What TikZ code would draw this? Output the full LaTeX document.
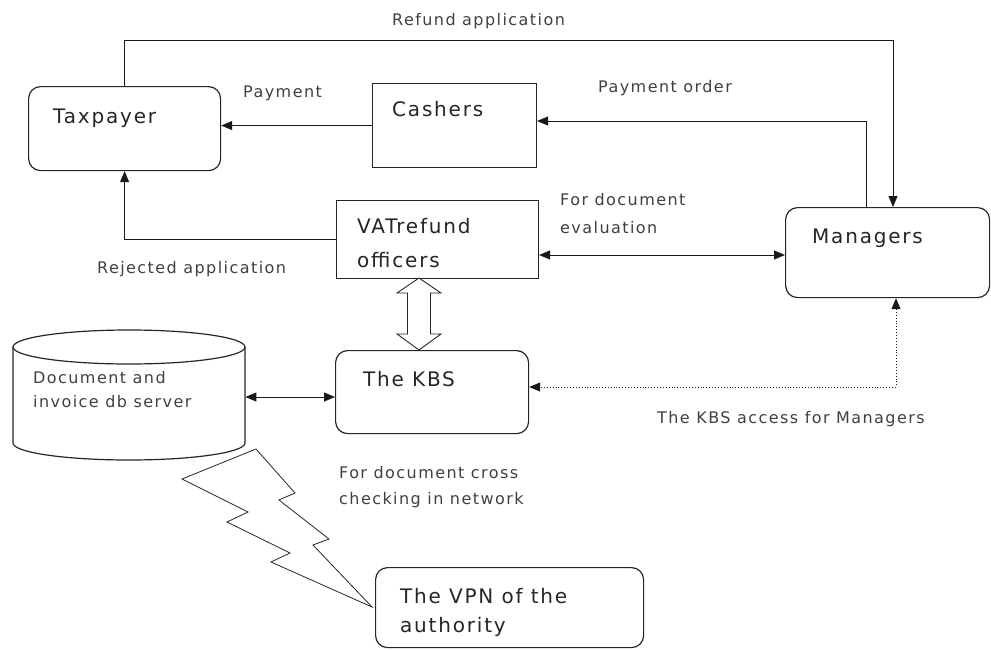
\documentclass[tikz,border=0pt]{standalone}
\usepackage{fontspec}
\setmainfont{DejaVu Sans}[LetterSpace=9]
\usetikzlibrary{arrows.meta}
\begin{document}
\begin{tikzpicture}[x=1pt,y=-1pt,
  rbox/.style={draw=black!85, line width=1.2pt, rounded corners=12pt, fill=white, inner sep=0pt, anchor=north west},
  sqbox/.style={draw=black!85, line width=1.1pt, fill=white, inner sep=0pt, anchor=north west},
  conn/.style={line width=0.9pt, draw=black!90},
  arr/.style={-{Triangle[length=11pt,width=9pt]}},
  arrb/.style={{Triangle[length=11pt,width=9pt]}-{Triangle[length=11pt,width=9pt]}},
  boxtxt/.style={anchor=base west, inner sep=0pt, font=\fontsize{20}{24}\selectfont, text=black!85},
  lbl/.style={anchor=base west, inner sep=0pt, font=\fontsize{16}{20}\selectfont, text=black!75},
]
\useasboundingbox (0,0) rectangle (991,649);

% boxes
\node[rbox, minimum width=192pt, minimum height=84pt] (tax) at (28,86) {};
\node[sqbox, minimum width=164pt, minimum height=84pt] (cash) at (372,83) {};
\node[sqbox, minimum width=202pt, minimum height=78pt] (vat) at (336,200) {};
\node[rbox, minimum width=204pt, minimum height=90pt] (mgr) at (785,207) {};
\node[rbox, minimum width=193pt, minimum height=83pt] (kbs) at (335,350) {};
\node[rbox, minimum width=268pt, minimum height=80pt] (vpn) at (375,567) {};
\node[inner sep=0pt, minimum width=232pt, minimum height=130pt, anchor=north west] (db) at (13,330) {};

% cylinder
\draw[line width=1.2pt, draw=black!85] (13,347) -- (13,443)
   arc[start angle=180, end angle=360, x radius=116pt, y radius=17pt] -- (245,347);
\draw[line width=1.2pt, draw=black!85] (129,347) ellipse[x radius=116pt, y radius=17pt];

% box texts
\node[boxtxt] (taxT) at (53,123) {Taxpayer};
\node[boxtxt] (cashT) at (392,116) {Cashers};
\node[boxtxt] (vatT1) at (357,233) {VATrefund};
\node[boxtxt] (vatT2) at (357,267) {officers};
\node[boxtxt] (mgrT) at (812,243) {Managers};
\node[boxtxt] (kbsT) at (363,386) {The KBS};
\node[boxtxt] (vpnT1) at (400,603) {The VPN of the};
\node[boxtxt] (vpnT2) at (400,632) {authority};
\node[lbl] (dbT1) at (33,383) {Document and};
\node[lbl] (dbT2) at (33,407) {invoice db server};

% helper coordinates
\coordinate (rA) at (893,40);
\coordinate (pA) at (866,121);
\coordinate (yE) at (0,255);
\coordinate (yD) at (0,397);
\coordinate (dA) at (896,387);

% connectors
\draw[conn,arr] (tax.north) |- (rA) -- (rA |- mgr.north);
\draw[conn,arr] (pA |- mgr.north) -- (pA) -- (pA -| cash.east);
\draw[conn,arr] (cash.west) -- (cash.west -| tax.east);
\draw[conn,arr] (vat.west) -| (tax.south);
\draw[conn,arrb] (vat.east |- yE) -- (mgr.west |- yE);
\draw[conn,arrb] (db.east |- yD) -- (kbs.west |- yD);
\draw[conn,arrb,dotted] (dA |- mgr.south) -- (dA) -- (dA -| kbs.east);

% hollow double arrow
\draw[line width=0.9pt, draw=black!85, fill=white]
  (419,278) -- (441,293) -- (430.5,293) -- (430.5,334) -- (441,334) -- (419,350)
  -- (397,334) -- (407.5,334) -- (407.5,293) -- (397,293) -- cycle;

% lightning
\draw[line width=0.8pt, draw=black!85, line join=miter]
  (256,449) -- (182,479) -- (248,512) -- (227,522) -- (290,553) -- (271,562)
  -- (372,607) -- (313,545) -- (329,539) -- (279,500) -- (295,493) -- cycle;

% labels
\node[lbl] (l1) at (392,25) {Refund application};
\node[lbl] (l2) at (243,97) {Payment};
\node[lbl] (l3) at (598,92) {Payment order};
\node[lbl] (l4a) at (560,205) {For document};
\node[lbl] (l4b) at (560,233) {evaluation};
\node[lbl] (l5) at (97,273) {Rejected application};
\node[lbl] (l6) at (657,423) {The KBS access for Managers};
\node[lbl] (l7a) at (339,478) {For document cross};
\node[lbl] (l7b) at (339,504) {checking in network};
\end{tikzpicture}
\end{document}
